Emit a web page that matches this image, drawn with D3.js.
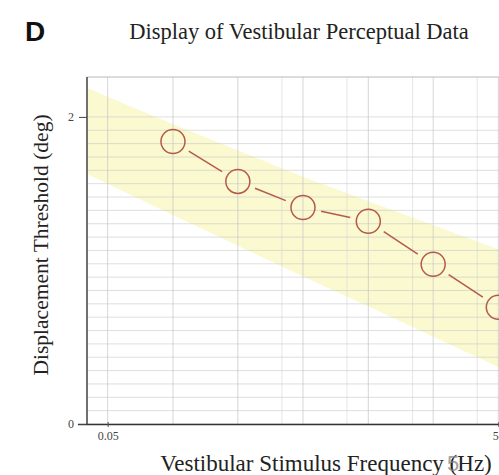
<!DOCTYPE html>
<html>
<head>
<meta charset="utf-8">
<script src="https://cdn.jsdelivr.net/npm/d3@7"></script>
<style>
  body { margin: 0; background: #fff; }
  svg { display: block; }
</style>
</head>
<body>
<svg id="chart" width="499" height="475"></svg>
<script>
// stimulus frequencies (Hz) and measured thresholds (deg)
var freqs = [0.108, 0.232, 0.5, 1.08, 2.32, 5];
var thresholds = [1.84, 1.58, 1.41, 1.32, 1.04, 0.76];

// shaded normative band
var bandFreqs = [0.039, 0.1, 0.5, 1.2, 5.2];
var bandUpper = [2.19, 1.97, 1.61, 1.43, 1.13];
var bandLower = [1.63, 1.38, 0.96, 0.74, 0.36];

// grid + ticks
var majorGrid = [0.05, 0.108, 0.232, 0.5, 1.08, 2.32, 5];
var minorGrid = [0.39, 0.84, 1.82, 3.9];
var xTicks = [0.05, 5];
var yTicks = [0, 2];

var svg = d3.select('#chart');
var serif = '"Liberation Serif", "Times New Roman", serif';

var x = d3.scaleLog().domain([0.0392, 5.1]).range([87, 500]);
var y = d3.scaleLinear().domain([0, 2.26]).range([424, 77]);

// band
var area = d3.area()
    .x(function (d, i) { return x(bandFreqs[i]); })
    .y0(function (d, i) { return y(bandLower[i]); })
    .y1(function (d, i) { return y(bandUpper[i]); });
svg.append('path')
    .datum(bandFreqs)
    .attr('d', area)
    .attr('fill', '#fbf9cf');

// horizontal grid
var hLines = d3.range(0, 2.0001, 2 / 23);
svg.append('g').selectAll('line')
    .data(hLines)
    .enter().append('line')
        .attr('x1', 87).attr('x2', 499)
        .attr('y1', function (d) { return y(d); })
        .attr('y2', function (d) { return y(d); })
        .attr('stroke', '#c8c8cc')
        .attr('stroke-opacity', 0.6)
        .attr('stroke-width', 1);

// vertical grid
svg.append('g').selectAll('line')
    .data(majorGrid)
    .enter().append('line')
        .attr('x1', function (d) { return x(d); })
        .attr('x2', function (d) { return x(d); })
        .attr('y1', 77).attr('y2', 424)
        .attr('stroke', '#c4c4c8')
        .attr('stroke-opacity', 0.7);
svg.append('g').selectAll('line')
    .data(minorGrid)
    .enter().append('line')
        .attr('x1', function (d) { return x(d); })
        .attr('x2', function (d) { return x(d); })
        .attr('y1', 77).attr('y2', 424)
        .attr('stroke', '#d4d4d8')
        .attr('stroke-opacity', 0.6);

// top border
svg.append('line')
    .attr('x1', 87).attr('x2', 499).attr('y1', 77).attr('y2', 77)
    .attr('stroke', '#b8b8b8');

// axes
svg.append('line')
    .attr('x1', 87).attr('x2', 87).attr('y1', 77).attr('y2', 424)
    .attr('stroke', '#707070').attr('stroke-width', 2);
svg.append('line')
    .attr('x1', 78).attr('x2', 499).attr('y1', 424.5).attr('y2', 424.5)
    .attr('stroke', '#333').attr('stroke-width', 1.5);

var yAxis = d3.axisLeft(y).tickValues(yTicks).tickSize(8).tickPadding(5).tickFormat(d3.format('d'));
var gy = svg.append('g').attr('transform', 'translate(87,0)').call(yAxis);
gy.select('.domain').remove();
gy.selectAll('line').attr('stroke', '#444');
gy.selectAll('text').attr('font-family', serif).attr('font-size', 12).attr('fill', '#444');

var xAxis = d3.axisBottom(x).tickValues(xTicks).tickSize(5).tickPadding(4).tickFormat(function (d) { return String(d); });
var gx = svg.append('g').attr('transform', 'translate(0,422)').call(xAxis);
gx.select('.domain').remove();
gx.selectAll('line').attr('stroke', '#555');
gx.selectAll('text').attr('font-family', serif).attr('font-size', 12).attr('fill', '#444')
    .attr('dx', function (d) { return d === 5 ? -3 : 0; });

// connecting segments, trimmed around the circles
var pts = freqs.map(function (f, i) { return [x(f), y(thresholds[i])]; });
var r = 12, gap = 18.5;
var segs = d3.pairs(pts);
svg.append('g').selectAll('line')
    .data(segs)
    .enter().append('line')
        .each(function (d) {
            var dx = d[1][0] - d[0][0], dy = d[1][1] - d[0][1];
            var len = Math.sqrt(dx * dx + dy * dy);
            var ux = dx / len, uy = dy / len;
            d3.select(this)
                .attr('x1', d[0][0] + ux * gap).attr('y1', d[0][1] + uy * gap)
                .attr('x2', d[1][0] - ux * gap).attr('y2', d[1][1] - uy * gap);
        })
        .attr('stroke', '#b45a4c')
        .attr('stroke-width', 1.5);

svg.append('g').selectAll('circle')
    .data(pts)
    .enter().append('circle')
        .attr('cx', function (d) { return d[0]; })
        .attr('cy', function (d) { return d[1]; })
        .attr('r', r)
        .attr('fill', 'none')
        .attr('stroke', '#b45a4c')
        .attr('stroke-width', 1.5);

// titles
svg.append('text')
    .attr('x', 25).attr('y', 41)
    .attr('font-family', 'Arial, "Liberation Sans", sans-serif')
    .attr('font-weight', 'bold').attr('font-size', 28)
    .attr('fill', '#111')
    .text('D');

svg.append('text')
    .attr('x', 299).attr('y', 39)
    .attr('text-anchor', 'middle')
    .attr('font-family', serif).attr('font-size', 22.5)
    .attr('fill', '#222')
    .text('Display of Vestibular Perceptual Data');

svg.append('text')
    .attr('transform', 'translate(48,245) rotate(-90)')
    .attr('text-anchor', 'middle')
    .attr('font-family', serif).attr('font-size', 21.5)
    .attr('fill', '#222')
    .text('Displacement Threshold (deg)');

svg.append('text')
    .attr('x', 326).attr('y', 471)
    .attr('text-anchor', 'middle')
    .attr('font-family', serif).attr('font-size', 23)
    .attr('fill', '#222')
    .text('Vestibular Stimulus Frequency (Hz)');

// stray "5" overprinted on the unit bracket
svg.append('text')
    .attr('x', 447).attr('y', 471)
    .attr('font-family', 'Arial, "Liberation Sans", sans-serif').attr('font-size', 22)
    .attr('fill', '#888').attr('fill-opacity', 0.8)
    .text('5');
</script>
</body>
</html>
